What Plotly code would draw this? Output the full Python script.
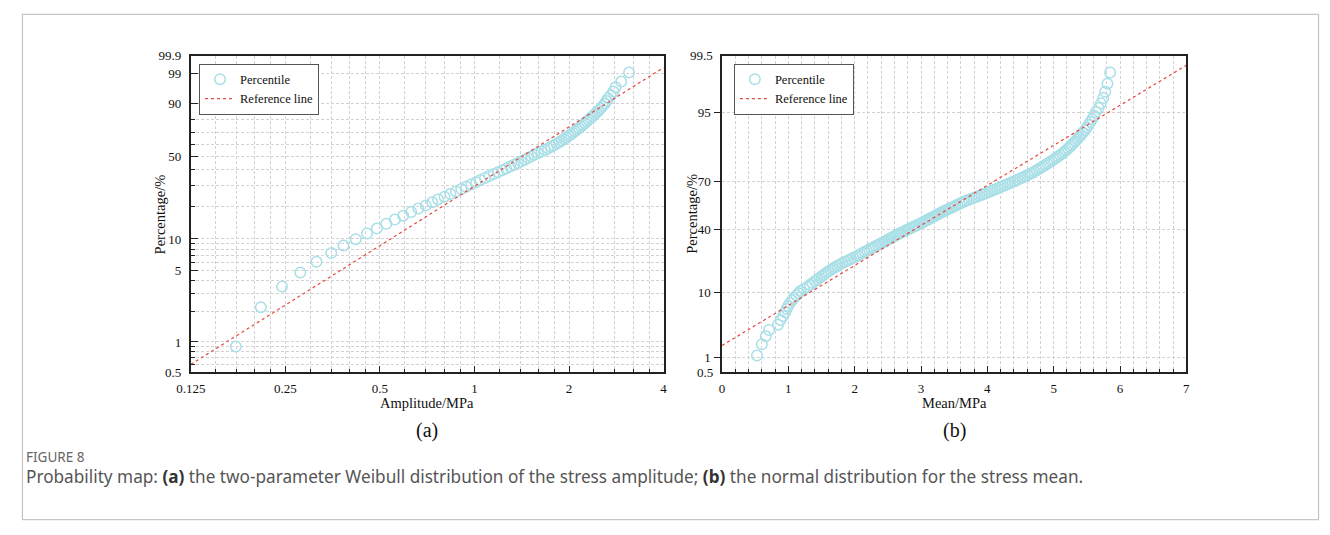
import math
from statistics import NormalDist
import plotly.graph_objects as go

W, H = 1330, 535

# ---------------- (a) stress amplitude, two-parameter Weibull probability plot
amp_mpa = [0.174, 0.209, 0.244, 0.279, 0.314, 0.350, 0.383, 0.419, 0.455, 0.489,
           0.524, 0.558, 0.593, 0.629, 0.663, 0.700, 0.734, 0.766, 0.803, 0.838,
           0.873, 0.908, 0.941, 0.976, 1.012, 1.045, 1.080, 1.116, 1.152, 1.188,
           1.225, 1.262, 1.299, 1.336, 1.373, 1.409, 1.445, 1.481, 1.517, 1.552,
           1.593, 1.634, 1.675, 1.715, 1.755, 1.790, 1.825, 1.860, 1.894, 1.928,
           1.960, 1.992, 2.024, 2.056, 2.088, 2.119, 2.150, 2.182, 2.213, 2.244,
           2.277, 2.310, 2.344, 2.378, 2.412, 2.448, 2.485, 2.523, 2.561, 2.599,
           2.631, 2.664, 2.718, 2.767, 2.814, 2.932, 3.106]
amp_pct = [0.90, 2.20, 3.49, 4.78, 6.07, 7.36, 8.66, 9.95, 11.24, 12.53,
           13.82, 15.12, 16.41, 17.70, 18.99, 20.28, 21.58, 22.87, 24.16, 25.45,
           26.74, 28.04, 29.33, 30.62, 31.91, 33.20, 34.50, 35.79, 37.08, 38.37,
           39.66, 40.96, 42.25, 43.54, 44.83, 46.12, 47.42, 48.71, 50.00, 51.29,
           52.58, 53.88, 55.17, 56.46, 57.75, 59.04, 60.34, 61.63, 62.92, 64.21,
           65.50, 66.80, 68.09, 69.38, 70.67, 71.96, 73.26, 74.55, 75.84, 77.13,
           78.42, 79.72, 81.01, 82.30, 83.59, 84.88, 86.18, 87.47, 88.76, 90.05,
           91.34, 92.64, 93.93, 95.22, 96.51, 97.80, 99.10]
amp_ref_mpa = [0.125, 4.0]
amp_ref_pct = [0.60, 99.48]

amp_xticks = [0.125, 0.25, 0.5, 1, 2, 4]
amp_xticktext = ["0.125", "0.25", "0.5", "1", "2", "4"]
amp_xminor = [0.15, 0.175, 0.2, 0.225, 0.3, 0.35, 0.4, 0.45, 0.6, 0.7, 0.8, 0.9,
              1.2, 1.4, 1.6, 1.8, 2.4, 2.8, 3.2, 3.6]
amp_yticks = [0.5, 1, 5, 10, 50, 90, 99, 99.9]
amp_yticktext = ["0.5", "1", "5", "10", "50", "90", "99", "99.9"]
amp_yminor = [0.6, 0.7, 0.8, 0.9, 2, 3, 4, 6, 7, 8, 9, 20, 30, 40, 60, 70, 80]

# ---------------- (b) stress mean, normal probability plot
mean_mpa = [0.526, 0.600, 0.660, 0.709, 0.843, 0.883, 0.921, 0.950, 0.975, 0.995,
            1.025, 1.055, 1.085, 1.120, 1.152, 1.180, 1.234, 1.285, 1.324, 1.364,
            1.400, 1.435, 1.469, 1.502, 1.535, 1.568, 1.602, 1.637, 1.672, 1.707,
            1.742, 1.777, 1.817, 1.857, 1.897, 1.937, 1.977, 2.017, 2.051, 2.085,
            2.118, 2.152, 2.185, 2.219, 2.253, 2.285, 2.317, 2.350, 2.382, 2.415,
            2.446, 2.475, 2.504, 2.533, 2.562, 2.591, 2.621, 2.653, 2.684, 2.716,
            2.748, 2.779, 2.811, 2.842, 2.874, 2.905, 2.937, 2.969, 3.000, 3.028,
            3.055, 3.083, 3.110, 3.137, 3.165, 3.194, 3.222, 3.250, 3.279, 3.307,
            3.336, 3.364, 3.393, 3.424, 3.456, 3.487, 3.519, 3.550, 3.582, 3.614,
            3.645, 3.682, 3.721, 3.760, 3.800, 3.839, 3.878, 3.917, 3.956, 3.995,
            4.035, 4.074, 4.113, 4.152, 4.190, 4.228, 4.266, 4.304, 4.343, 4.381,
            4.419, 4.457, 4.495, 4.533, 4.571, 4.609, 4.647, 4.680, 4.712, 4.744,
            4.776, 4.808, 4.841, 4.873, 4.905, 4.937, 4.969, 5.001, 5.034, 5.066,
            5.098, 5.131, 5.160, 5.188, 5.216, 5.244, 5.272, 5.300, 5.328, 5.356,
            5.384, 5.412, 5.441, 5.469, 5.498, 5.526, 5.554, 5.582, 5.610, 5.638,
            5.677, 5.713, 5.747, 5.777, 5.811, 5.851]
mean_pct = [1.07, 1.71, 2.34, 2.97, 3.60, 4.23, 4.86, 5.49, 6.12, 6.76,
            7.39, 8.02, 8.65, 9.28, 9.91, 10.54, 11.17, 11.81, 12.44, 13.07,
            13.70, 14.33, 14.96, 15.59, 16.22, 16.86, 17.49, 18.12, 18.75, 19.38,
            20.01, 20.64, 21.28, 21.91, 22.54, 23.17, 23.80, 24.43, 25.06, 25.69,
            26.33, 26.96, 27.59, 28.22, 28.85, 29.48, 30.11, 30.75, 31.38, 32.01,
            32.64, 33.27, 33.90, 34.53, 35.16, 35.80, 36.43, 37.06, 37.69, 38.32,
            38.95, 39.58, 40.21, 40.85, 41.48, 42.11, 42.74, 43.37, 44.00, 44.63,
            45.27, 45.90, 46.53, 47.16, 47.79, 48.42, 49.05, 49.68, 50.32, 50.95,
            51.58, 52.21, 52.84, 53.47, 54.10, 54.73, 55.37, 56.00, 56.63, 57.26,
            57.89, 58.52, 59.15, 59.79, 60.42, 61.05, 61.68, 62.31, 62.94, 63.57,
            64.20, 64.84, 65.47, 66.10, 66.73, 67.36, 67.99, 68.62, 69.26, 69.89,
            70.52, 71.15, 71.78, 72.41, 73.04, 73.67, 74.31, 74.94, 75.57, 76.20,
            76.83, 77.46, 78.09, 78.72, 79.36, 79.99, 80.62, 81.25, 81.88, 82.51,
            83.14, 83.78, 84.41, 85.04, 85.67, 86.30, 86.93, 87.56, 88.19, 88.83,
            89.46, 90.09, 90.72, 91.35, 91.98, 92.61, 93.25, 93.88, 94.51, 95.14,
            95.77, 96.40, 97.03, 97.66, 98.30, 98.93]
mean_ref_mpa = [0.0, 7.0]
mean_ref_pct = [1.63, 99.22]

mean_xticks = [0, 1, 2, 3, 4, 5, 6, 7]
mean_yticks = [1, 10, 40, 70, 95]
mean_yrange_pct = [0.5, 99.5]

# ---------------- probability scales
_nd = NormalDist()


def weib(p):
    return math.log(-math.log(1.0 - p / 100.0))


def probit(p):
    return _nd.inv_cdf(p / 100.0)


# ---------------- styling
SERIF = "Liberation Serif"
MK_COLOR = "#a9dfe7"
REF_COLOR = "#e4473f"
GRID = "#d2d2d2"
AXC = "#222222"


def px_x(v):
    return v / W


def px_y(v):
    return 1 - v / H


fig = go.Figure()

fig.add_trace(go.Scatter(
    x=amp_mpa, y=[weib(p) for p in amp_pct], mode="markers", name="Percentile",
    marker=dict(symbol="circle-open", size=10.5, color=MK_COLOR, line=dict(width=1.5, color=MK_COLOR)),
    xaxis="x", yaxis="y", legend="legend"))
fig.add_trace(go.Scatter(
    x=amp_ref_mpa, y=[weib(p) for p in amp_ref_pct], mode="lines", name="Reference line",
    line=dict(color=REF_COLOR, width=1.2, dash="dot"),
    xaxis="x", yaxis="y", legend="legend"))

fig.add_trace(go.Scatter(
    x=mean_mpa, y=[probit(p) for p in mean_pct], mode="markers", name="Percentile",
    marker=dict(symbol="circle-open", size=10.5, color=MK_COLOR, line=dict(width=1.5, color=MK_COLOR)),
    xaxis="x2", yaxis="y2", legend="legend2"))
fig.add_trace(go.Scatter(
    x=mean_ref_mpa, y=[probit(p) for p in mean_ref_pct], mode="lines", name="Reference line",
    line=dict(color=REF_COLOR, width=1.2, dash="dot"),
    xaxis="x2", yaxis="y2", legend="legend2"))

tickfont = dict(family=SERIF, size=13, color="#111")
common = dict(showline=True, linecolor=AXC, linewidth=1.6, mirror=True, zeroline=False,
              showgrid=True, gridcolor=GRID, gridwidth=1, griddash="3px,2px",
              tickfont=tickfont, tickcolor=AXC, tickwidth=1.2)

dom_y = [px_y(376), px_y(50)]

fig.update_layout(
    width=W, height=H, autosize=False,
    margin=dict(l=0, r=0, t=0, b=0, pad=0),
    paper_bgcolor="white", plot_bgcolor="white",
    showlegend=True,
    xaxis=dict(domain=[px_x(178.3), px_x(658)], type="log",
               range=[math.log10(amp_xticks[0]), math.log10(amp_xticks[-1])],
               tickmode="array", tickvals=amp_xticks, ticktext=amp_xticktext,
               ticks="inside", ticklen=7, ticklabelstandoff=3,
               minor=dict(tickmode="array", tickvals=amp_xminor, ticks="inside", ticklen=4,
                          tickcolor=AXC, showgrid=True, gridcolor=GRID, griddash="3px,2px"),
               anchor="y", **common),
    yaxis=dict(domain=dom_y, range=[weib(0.5), weib(99.9)],
               tickmode="array", tickvals=[weib(p) for p in amp_yticks], ticktext=amp_yticktext,
               ticks="inside", ticklen=7, ticklabelstandoff=5,
               minor=dict(tickmode="array", tickvals=[weib(p) for p in amp_yminor], ticks="inside",
                          ticklen=4, tickcolor=AXC, showgrid=True, gridcolor=GRID, griddash="3px,2px"),
               anchor="x", **common),
    xaxis2=dict(domain=[px_x(717.3), px_x(1188.3)], range=[0, 7],
                tickmode="array", tickvals=mean_xticks, ticktext=[str(v) for v in mean_xticks],
                ticks="inside", ticklen=7, ticklabelstandoff=3,
                minor=dict(dtick=0.2, tick0=0, ticks="inside", ticklen=4, tickcolor=AXC,
                           showgrid=True, gridcolor=GRID, griddash="3px,2px"),
                anchor="y2", **common),
    yaxis2=dict(domain=dom_y, range=[probit(mean_yrange_pct[0]), probit(mean_yrange_pct[1])],
                tickmode="array", tickvals=[probit(p) for p in mean_yticks],
                ticktext=[str(v) for v in mean_yticks],
                ticks="outside", ticklen=6, ticklabelstandoff=1,
                anchor="x2", **common),
    legend=dict(x=px_x(186.7), y=px_y(58.3), xanchor="left", yanchor="top",
                bordercolor="#555", borderwidth=1, bgcolor="white",
                font=dict(family=SERIF, size=12.5, color="#111"), tracegroupgap=0, itemwidth=30),
    legend2=dict(x=px_x(729.3), y=px_y(58.3), xanchor="left", yanchor="top",
                 bordercolor="#555", borderwidth=1, bgcolor="white",
                 font=dict(family=SERIF, size=12.5, color="#111"), tracegroupgap=0, itemwidth=30),
)

ann = []
title_font = dict(family=SERIF, size=14.5, color="#111")
ann.append(dict(text="Amplitude/MPa", x=px_x(418), y=px_y(407), xref="paper", yref="paper",
                showarrow=False, font=title_font, xanchor="center", yanchor="middle"))
ann.append(dict(text="Mean/MPa", x=px_x(952.8), y=px_y(407), xref="paper", yref="paper",
                showarrow=False, font=title_font, xanchor="center", yanchor="middle"))
ann.append(dict(text="Percentage/%", x=px_x(147.5), y=px_y(213), xref="paper", yref="paper",
                showarrow=False, font=title_font, textangle=-90, xanchor="center", yanchor="middle"))
ann.append(dict(text="Percentage/%", x=px_x(686.5), y=px_y(213), xref="paper", yref="paper",
                showarrow=False, font=title_font, textangle=-90, xanchor="center", yanchor="middle"))
# end labels of the normal-probability axis
for lab, yy in [("99.5", 50), ("0.5", 376)]:
    ann.append(dict(text=lab, x=px_x(710.5), y=px_y(yy), xref="paper", yref="paper",
                    showarrow=False, font=tickfont, xanchor="right", yanchor="middle"))
# panel labels
ann.append(dict(text="(a)", x=px_x(418), y=px_y(436), xref="paper", yref="paper",
                showarrow=False, font=dict(family=SERIF, size=20, color="#111"),
                xanchor="center", yanchor="middle"))
ann.append(dict(text="(b)", x=px_x(953), y=px_y(436), xref="paper", yref="paper",
                showarrow=False, font=dict(family=SERIF, size=20, color="#111"),
                xanchor="center", yanchor="middle"))
# caption
ann.append(dict(text="FIGURE 8", x=px_x(9.5), y=px_y(463), xref="paper", yref="paper",
                showarrow=False, font=dict(family="Noto Sans", size=13.5, color="#666"),
                xanchor="left", yanchor="middle"))
ann.append(dict(text=("Probability map: <b><span style='color:#333'>(a)</span></b> the two-parameter Weibull "
                      "distribution of the stress amplitude; <b><span style='color:#333'>(b)</span></b> "
                      "the normal distribution for the stress mean."),
                x=px_x(9.5), y=px_y(483), xref="paper", yref="paper",
                showarrow=False, font=dict(family="Noto Sans", size=17.2, color="#555"),
                xanchor="left", yanchor="middle"))
fig.update_layout(annotations=ann)

# outer frame of the figure panel
fig.add_shape(type="rect", xref="paper", yref="paper",
              x0=px_x(7.5), x1=px_x(1322.5), y0=px_y(527.5), y1=px_y(7.5),
              line=dict(color="#b8b8b8", width=1), layer="below")

fig.write_html("out.html")
